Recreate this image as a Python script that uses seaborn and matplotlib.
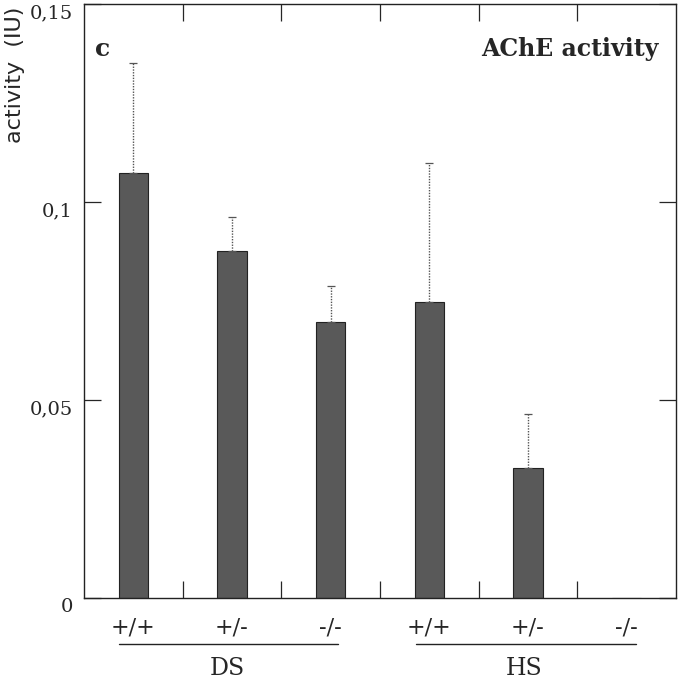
import numpy as np
import pandas as pd
import matplotlib.pyplot as plt
import matplotlib.transforms as mtransforms
from matplotlib.ticker import FixedLocator
import seaborn as sns

# ── Data ──────────────────────────────────────────────────────────────────────

groups = ["DS", "DS", "DS", "HS", "HS", "HS"]
genotypes = ["+/+", "+/-", "-/-", "+/+", "+/-", "-/-"]
activity = [0.1073, 0.0876, 0.0697, 0.0747, 0.0328, 0.0]
sem = [0.0278, 0.0086, 0.0090, 0.0351, 0.0137, 0.0]

y_ticks = [0, 0.05, 0.1, 0.15]
y_tick_labels = ["0", "0,05", "0,1", "0,15"]

df = pd.DataFrame({
    "key": [f"{g} {t}" for g, t in zip(groups, genotypes)],
    "activity": activity,
})

# ── Plot ──────────────────────────────────────────────────────────────────────

sns.set_style("ticks")
plt.rcParams["font.family"] = ["DejaVu Serif"]

fig = plt.figure(figsize=(6.84, 6.83), dpi=100)
ax = fig.add_axes([0.1228, 0.1245, 0.8655, 0.8697])

sns.barplot(data=df, x="key", y="activity", order=list(df["key"]),
            color="#595959", width=0.3, errorbar=None,
            edgecolor="#222222", linewidth=0.8, ax=ax)
for p in ax.patches:
    p.set_facecolor("#595959")

# upper-only error bars, centred on the bars seaborn drew
centers = [p.get_x() + p.get_width() / 2 for p in ax.patches]
heights = [p.get_height() for p in ax.patches]
for c, h, e in zip(centers, heights, sem):
    if e <= 0:
        continue
    eb = ax.errorbar([c], [h], yerr=[[0], [e]], fmt="none", ecolor="#555555",
                     elinewidth=1.0, capsize=3, capthick=0.9)
    eb[2][0].set_linestyle((0, (1, 1)))

ax.set_xlim(-0.5, 5.5)
ax.set_ylim(0, 0.15)
ax.set_xlabel("")
ax.set_ylabel("")

ax.set_xticks(range(len(genotypes)))
ax.set_xticklabels(genotypes, fontsize=16)
ax.tick_params(axis="x", which="major", length=0, pad=13)
ax.xaxis.set_minor_locator(FixedLocator([0.5, 1.5, 2.5, 3.5, 4.5]))
ax.tick_params(axis="x", which="minor", direction="in", length=12,
               top=True, bottom=True, width=0.9)

ax.set_yticks(y_ticks)
ax.set_yticklabels(y_tick_labels, fontsize=14)
ax.tick_params(axis="y", direction="in", length=12, left=True, right=True,
               width=0.9, pad=8)
for lab in ax.get_yticklabels():
    lab.set_va("top")

for s in ax.spines.values():
    s.set_visible(True)
    s.set_linewidth(1.0)
    s.set_color("#222222")

# group underlines and labels
trans = mtransforms.blended_transform_factory(ax.transData, ax.transAxes)
for name, x0, x1 in [("DS", -0.15, 2.07), ("HS", 2.86, 5.09)]:
    ax.plot([x0, x1], [-0.077, -0.077], transform=trans, color="#222222",
            linewidth=1.0, clip_on=False)
    ax.text((x0 + x1) / 2 - 0.01, -0.118, name, transform=trans, fontsize=17,
            ha="center", va="center")

ax.text(0.018, 0.925, "c", transform=ax.transAxes, fontsize=18,
        fontweight="bold", ha="left", va="center")
ax.text(0.97, 0.925, "AChE activity", transform=ax.transAxes, fontsize=17,
        fontweight="bold", ha="right", va="center")

fig.text(0.022, 0.89, "activity  (IU)", rotation=90, fontsize=16,
         family=["DejaVu Sans"], ha="center", va="center")

plt.savefig("out.png", dpi=100)
plt.close()
